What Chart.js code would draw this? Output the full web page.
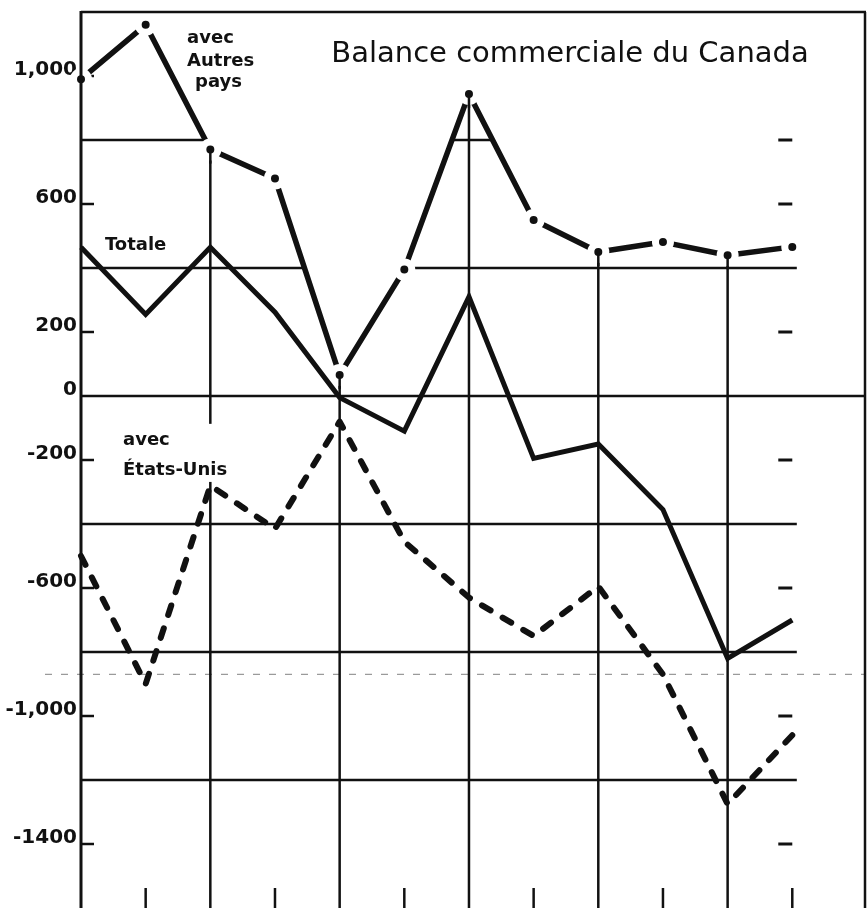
<!DOCTYPE html>
<html><head><meta charset="utf-8">
<script src="https://cdn.jsdelivr.net/npm/chart.js@4.4.1/dist/chart.umd.min.js"></script>
<style>html,body{margin:0;padding:0;background:#fff;overflow:hidden}#wrap{width:868px;height:908px}canvas{display:block}</style>
</head><body><div id="wrap"><canvas id="c" width="868" height="908"></canvas></div>
<script>
// ---- data ----
const categories = ['1','2','3','4','5','6','7','8','9','10','11','12'];
const autresPays = [990, 1160, 770, 680, 66, 395, 944, 550, 450, 481, 440, 466];
const totale     = [465, 255, 465, 262, -5, -110, 310, -195, -150, -355, -820, -700];
const etatsUnis  = [-500, -900, -280, -415, -80, -455, -630, -750, -595, -870, -1275, -1060];
const yTickValues = [1000, 600, 200, 0, -200, -600, -1000, -1400];
const yTickLabels = ['1,000', '600', '200', '0', '-200', '-600', '-1,000', '-1400'];
const gridValues = [800, 400, 0, -400, -800, -1200];
const rightMarkValues = [800, 600, 200, -200, -600, -1000, -1400];
const dropLineIdx = [2, 4, 6, 8, 10];
const bottomTickIdx = [1, 3, 5, 7, 9, 11];
const faintLineValue = -870;
const titleText = 'Balance commerciale du Canada';
const labelAutres = ['avec', 'Autres', 'pays'];
const labelTotale = 'Totale';
const labelEU = ['avec', 'États-Unis'];

// ---- layout / style config ----
const X_MAX = 12.14, GRID_END = 11.07;
const INK = '#111';
const FONT_NOTE = 'bold 18px "DejaVu Sans"';
const FONT_TITLE = '29px "DejaVu Sans"';

const toXY = arr => arr.map((v, i) => ({x: i, y: v}));

function aboveSegments(series, L) {
  const segs = []; let start = series[0] > L ? 0 : null;
  for (let i = 0; i < series.length - 1; i++) {
    const a = series[i], b = series[i + 1];
    if ((a > L) !== (b > L)) {
      const t = i + (a - L) / (a - b);
      if (start === null) start = t; else { segs.push([start, t]); start = null; }
    }
  }
  if (start !== null) segs.push([start, GRID_END]);
  return segs;
}

function line(ctx, x1, y1, x2, y2) { ctx.beginPath(); ctx.moveTo(x1, y1); ctx.lineTo(x2, y2); ctx.stroke(); }

const decor = {
  id: 'decor',
  beforeDatasetsDraw(chart) {
    const {ctx, chartArea: a, scales: {x, y}} = chart;
    ctx.save();
    ctx.strokeStyle = INK; ctx.lineCap = 'butt';
    // faint ruled dotted line
    ctx.save(); ctx.strokeStyle = '#9a9a9a'; ctx.lineWidth = 1.2; ctx.setLineDash([7, 9]);
    line(ctx, 45, y.getPixelForValue(faintLineValue), a.right, y.getPixelForValue(faintLineValue));
    ctx.restore();
    // horizontal grid lines (only beneath the "Autres pays" curve)
    ctx.lineWidth = 2.5;
    gridValues.forEach(L => {
      const py = y.getPixelForValue(L);
      const segs = L === 0 ? [[0, X_MAX]] : aboveSegments(autresPays, L);
      segs.forEach(([s, e]) => line(ctx, x.getPixelForValue(s), py, x.getPixelForValue(e), py));
    });
    // drop lines
    dropLineIdx.forEach(i => {
      const px = x.getPixelForValue(i);
      line(ctx, px, y.getPixelForValue(autresPays[i]), px, a.bottom);
    });
    // inner left ticks
    yTickValues.forEach(v => { if (v !== 0) { const py = y.getPixelForValue(v); line(ctx, a.left, py, a.left + 13, py); } });
    // right marks
    ctx.lineWidth = 3;
    const rx = x.getPixelForValue(categories.length - 1);
    rightMarkValues.forEach(v => { const py = y.getPixelForValue(v); line(ctx, rx - 14, py, rx, py); });
    // bottom ticks
    ctx.lineWidth = 2.5;
    bottomTickIdx.forEach(i => { const px = x.getPixelForValue(i); line(ctx, px, a.bottom, px, a.bottom - 20); });
    // white box behind the États-Unis label
    ctx.font = FONT_NOTE;
    const ex = x.getPixelForValue(0.65);
    const w = Math.max(...labelEU.map(t => ctx.measureText(t).width));
    const y1 = y.getPixelForValue(-137), y2 = y.getPixelForValue(-231);
    ctx.fillStyle = '#fff';
    ctx.fillRect(ex - 4, y1 - 16, w + 10, (y2 - y1) + 28);
    ctx.restore();
  },
  afterDatasetsDraw(chart) {
    const {ctx, chartArea: a, scales: {x, y}} = chart;
    ctx.save();
    ctx.strokeStyle = INK; ctx.fillStyle = INK;
    // stubs joining drop lines to the dots
    ctx.lineWidth = 2.5;
    dropLineIdx.forEach(i => {
      const px = x.getPixelForValue(i), py = y.getPixelForValue(autresPays[i]);
      line(ctx, px, py, px, py + 14);
    });
    // frame
    ctx.lineWidth = 3;
    line(ctx, a.left, a.top - 1, a.left, a.bottom);
    ctx.lineWidth = 2.5;
    line(ctx, a.left, a.top, a.right, a.top);
    line(ctx, a.right - 1, a.top, a.right - 1, a.bottom);
    // title
    ctx.font = FONT_TITLE; ctx.textAlign = 'center'; ctx.textBaseline = 'alphabetic';
    ctx.fillText(titleText, 570, 62);
    // notes
    ctx.font = FONT_NOTE; ctx.textAlign = 'left'; ctx.textBaseline = 'middle';
    const ax = x.getPixelForValue(1.64);
    ctx.fillText(labelAutres[0], ax, y.getPixelForValue(1119));
    ctx.fillText(labelAutres[1], ax, y.getPixelForValue(1047));
    ctx.fillText(labelAutres[2], ax + 8, y.getPixelForValue(980));
    ctx.fillText(labelTotale, x.getPixelForValue(0.37), y.getPixelForValue(472));
    const ex = x.getPixelForValue(0.65);
    ctx.fillText(labelEU[0], ex, y.getPixelForValue(-137));
    ctx.fillText(labelEU[1], ex, y.getPixelForValue(-231));
    ctx.restore();
  }
};

new Chart(document.getElementById('c'), {
  type: 'line',
  data: {
    labels: categories,
    datasets: [
      { label: 'Totale', data: toXY(totale), borderColor: INK, borderWidth: 5,
        pointRadius: 0, borderJoinStyle: 'miter', borderCapStyle: 'butt', clip: false, tension: 0 },
      { label: 'avec États-Unis', data: toXY(etatsUnis), borderColor: INK, borderWidth: 6,
        borderDash: [10, 14], borderCapStyle: 'round', borderJoinStyle: 'round',
        pointRadius: 0, clip: false, tension: 0 },
      { label: 'avec Autres pays', data: toXY(autresPays), borderColor: INK, borderWidth: 5.5,
        borderCapStyle: 'round', borderJoinStyle: 'round',
        pointRadius: 7.5, pointBorderWidth: 7, pointBackgroundColor: INK, pointBorderColor: '#fff',
        clip: false, tension: 0 }
    ]
  },
  options: {
    responsive: false, animation: false, devicePixelRatio: 1,
    layout: { autoPadding: false, padding: { top: 12, right: 2, bottom: 0, left: 0 } },
    plugins: { legend: { display: false }, tooltip: { enabled: false }, title: { display: false } },
    scales: {
      x: { type: 'linear', min: 0, max: X_MAX, display: false },
      y: {
        min: -1600, max: 1200, position: 'left',
        afterFit: s => { s.width = 81; s.paddingTop = 0; s.paddingBottom = 0; },
        afterBuildTicks: s => { s.ticks = yTickValues.map(v => ({ value: v })); },
        ticks: {
          autoSkip: false, color: INK, font: { family: 'DejaVu Sans', size: 20, weight: 'bold' },
          padding: 4, labelOffset: -6,
          callback: v => yTickLabels[yTickValues.indexOf(v)]
        },
        grid: { display: false, drawTicks: false },
        border: { display: false }
      }
    }
  },
  plugins: [decor]
});
</script>
</body></html>
